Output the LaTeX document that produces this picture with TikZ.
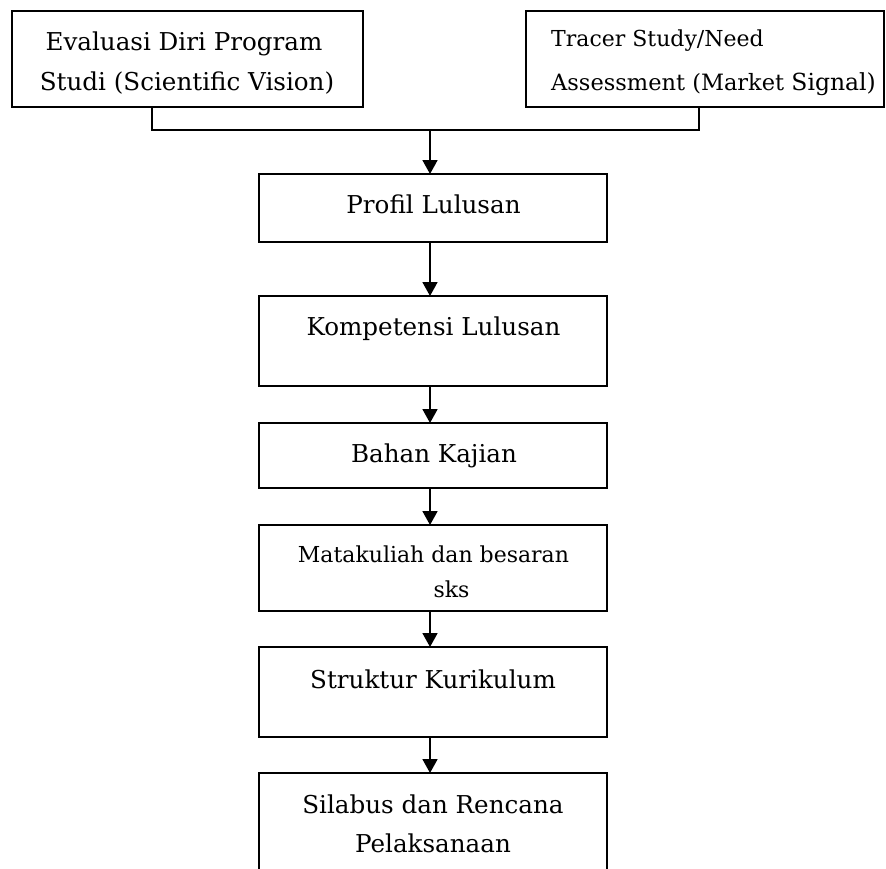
\documentclass[tikz,border=0pt]{standalone}
\usepackage{fontspec}
\setmainfont{DejaVu Serif}
\usetikzlibrary{arrows.meta}
\begin{document}
\begin{tikzpicture}[x=1pt,y=-1pt,
  box/.style={draw,line width=1.6pt,rectangle,inner sep=0pt,outer sep=0pt},
  conn/.style={line width=1.6pt},
  arr/.style={line width=1.8pt,-{Triangle[width=15pt,length=14pt]}},
  txt/.style={inner sep=0pt,anchor=base,font=\fontsize{24.6}{30}\selectfont},
  stxt/.style={inner sep=0pt,anchor=base,font=\fontsize{22}{27}\selectfont}]
\useasboundingbox (0,0) rectangle (886,868);
\begin{scope}
\clip (0,0) rectangle (886,868);
\node[box,minimum width=351pt,minimum height=96pt] (b1) at (187.5,59) {};
\node[box,minimum width=358pt,minimum height=96pt] (b2) at (705,59) {};
\node[box,minimum width=348pt,minimum height=68pt] (p) at (433,208) {};
\node[box,minimum width=348pt,minimum height=90pt] (k) at (433,341) {};
\node[box,minimum width=348pt,minimum height=65pt] (bk) at (433,455.5) {};
\node[box,minimum width=348pt,minimum height=86pt] (m) at (433,568) {};
\node[box,minimum width=348pt,minimum height=90pt] (s) at (433,692) {};
\node[box,minimum width=348pt,minimum height=107pt] (sl) at (433,826.5) {};
\end{scope}
\coordinate (j) at (430,130);
\draw[conn] ([xshift=-35.5pt]b1.south) |- (j) -| ([xshift=-6pt]b2.south);
\draw[arr] (j) -- (j |- p.north);
\draw[arr] ([xshift=-3pt]p.south) -- ([xshift=-3pt]k.north);
\draw[arr] ([xshift=-3pt]k.south) -- ([xshift=-3pt]bk.north);
\draw[arr] ([xshift=-3pt]bk.south) -- ([xshift=-3pt]m.north);
\draw[arr] ([xshift=-3pt]m.south) -- ([xshift=-3pt]s.north);
\draw[arr] ([xshift=-3pt]s.south) -- ([xshift=-3pt]sl.north);
\node[txt] (t1a) at (184,50) {Evaluasi Diri Program};
\node[txt] (t1b) at (187,90) {Studi (Scientific Vision)};
\node[stxt,anchor=base west] (t2a) at (551,46) {Tracer Study/Need};
\node[txt,anchor=base west] (t2b) at (551,90) {\fontsize{22.5}{27}\selectfont Assessment (Market {\fontsize{23.5}{27}\selectfont Signal)}};
\node[txt] (tp) at (433.5,213) {Profil Lulusan};
\node[txt] (tk) at (433.5,335) {Kompetensi Lulusan};
\node[txt] (tbk) at (434,462) {Bahan Kajian};
\node[stxt] (tm) at (433.5,562) {Matakuliah dan besaran};
\node[stxt] (tm2) at (451.5,597) {sks};
\node[txt] (ts) at (433,688) {Struktur Kurikulum};
\node[txt] (tsl) at (433,813) {Silabus dan Rencana};
\node[txt] (tsl2) at (433,852) {Pelaksanaan};
\end{tikzpicture}
\end{document}
